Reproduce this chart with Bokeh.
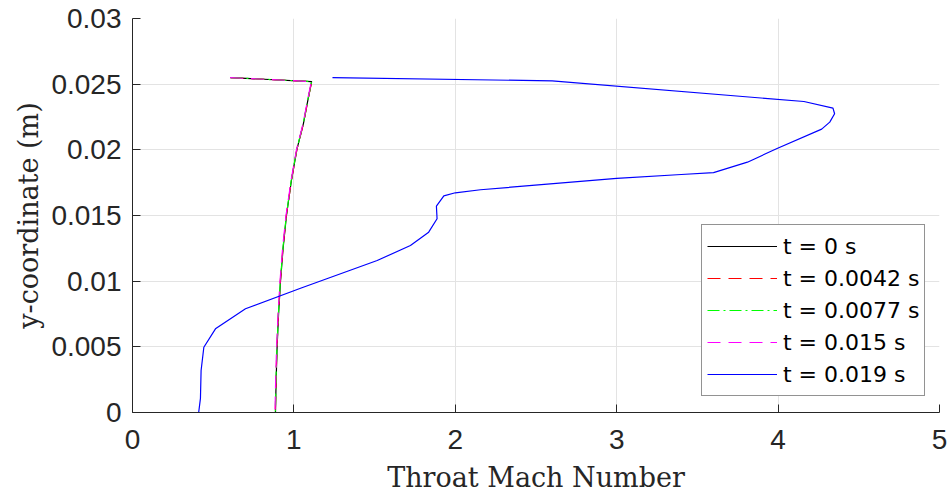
from bokeh.plotting import figure
from bokeh.models import Range1d, FixedTicker, Legend, LegendItem
from bokeh.embed import file_html
from bokeh.resources import INLINE

# ---- data ----
y_base = [0.0255, 0.0252, 0.0238, 0.0220, 0.0200, 0.0177, 0.0150, 0.0125, 0.0100, 0.0075, 0.0050, 0.0025, 0.0]
m_t0 = [0.607, 1.110, 1.087, 1.059, 1.018, 0.985, 0.954, 0.933, 0.917, 0.905, 0.896, 0.890, 0.886]
m_t0042 = [0.607, 1.110, 1.087, 1.059, 1.018, 0.985, 0.953, 0.932, 0.916, 0.904, 0.895, 0.889, 0.885]
m_t0077 = [0.607, 1.110, 1.086, 1.058, 1.017, 0.984, 0.953, 0.932, 0.916, 0.904, 0.895, 0.889, 0.885]
m_t015 = [0.605, 1.108, 1.085, 1.057, 1.016, 0.983, 0.951, 0.930, 0.914, 0.902, 0.893, 0.887, 0.883]

m_t019 = [0.410, 0.421, 0.425, 0.442, 0.514, 0.700, 1.041, 1.516, 1.722, 1.835, 1.887, 1.883,
          1.929, 2.000, 2.156, 3.000, 3.400, 3.600, 3.810, 3.990, 4.270, 4.320, 4.350, 4.340,
          4.160, 2.600, 1.239]
y_t019 = [0.0, 0.00107, 0.00320, 0.00497, 0.00637, 0.00790, 0.00946, 0.01157, 0.01272, 0.01373,
          0.01475, 0.01571, 0.01650, 0.01673, 0.01696, 0.01783, 0.01812, 0.01827, 0.01906, 0.02008,
          0.02158, 0.02211, 0.02275, 0.02317, 0.02368, 0.02525, 0.02550]

series_labels = ["t = 0 s", "t = 0.0042 s", "t = 0.0077 s", "t = 0.015 s", "t = 0.019 s"]
x_ticks = [0, 1, 2, 3, 4, 5]
y_ticks = [0, 0.005, 0.01, 0.015, 0.02, 0.025, 0.03]
y_tick_labels = ["0", "0.005", "0.01", "0.015", "0.02", "0.025", "0.03"]

AX = "#262626"

p = figure(width=947, height=495, output_backend="svg", toolbar_location=None,
           x_range=Range1d(0, 5), y_range=Range1d(0, 0.03),
           min_border_left=132, min_border_right=8, min_border_top=18, min_border_bottom=83)
p.outline_line_color = None
p.background_fill_color = "white"
p.border_fill_color = "white"

for ax in (p.xaxis[0], p.yaxis[0]):
    ax.axis_line_color = AX
    ax.axis_line_width = 1
    ax.major_tick_line_color = AX
    ax.major_tick_in = 8
    ax.major_tick_out = 0
    ax.minor_tick_line_color = None
    ax.major_label_text_font = "Liberation Sans"
    ax.major_label_text_font_size = "28px"
    ax.major_label_text_color = AX
    ax.axis_label_text_font = "DejaVu Serif"
    ax.axis_label_text_font_size = "27px"
    ax.axis_label_text_font_style = "normal"
    ax.axis_label_text_color = AX

p.xaxis.ticker = FixedTicker(ticks=x_ticks)
p.yaxis.ticker = FixedTicker(ticks=y_ticks)
p.yaxis.major_label_overrides = {t: l for t, l in zip(y_ticks, y_tick_labels)}
p.xaxis.major_label_standoff = 17
p.yaxis.major_label_standoff = 11
p.xaxis.axis_label = "Throat Mach Number"
p.yaxis.axis_label = "y-coordinate (m)"
p.xaxis.axis_label_standoff = 10
p.yaxis.axis_label_standoff = 4

p.grid.grid_line_color = "#e3e3e3"
p.grid.grid_line_width = 1

lw = 1.2
r0 = p.line(m_t0, y_base, line_color="#000000", line_width=lw)
r1 = p.line(m_t0042, y_base, line_color="#ff0000", line_width=lw, line_dash="13 8")
r2 = p.line(m_t0077, y_base, line_color="#00ff00", line_width=lw, line_dash="12 4 2 4")
r3 = p.line(m_t015, y_base, line_color="#ff00ff", line_width=lw, line_dash="13 8")
r4 = p.line(m_t019, y_t019, line_color="#0000ff", line_width=lw)

legend = Legend(items=[LegendItem(label=l, renderers=[r]) for l, r in
                       zip(series_labels, [r0, r1, r2, r3, r4])],
                location=(569, 16))
legend.label_text_font = "DejaVu Sans"
legend.label_text_font_size = "22px"
legend.label_text_color = "#000000"
legend.glyph_width = 70
legend.glyph_height = 32
legend.label_height = 32
legend.label_standoff = 6
legend.spacing = 0
legend.padding = 5
legend.margin = 0
legend.border_line_color = AX
legend.border_line_width = 1
legend.background_fill_color = "white"
legend.background_fill_alpha = 1.0
p.add_layout(legend, "center")

open("out.html", "w").write(file_html(p, INLINE))
